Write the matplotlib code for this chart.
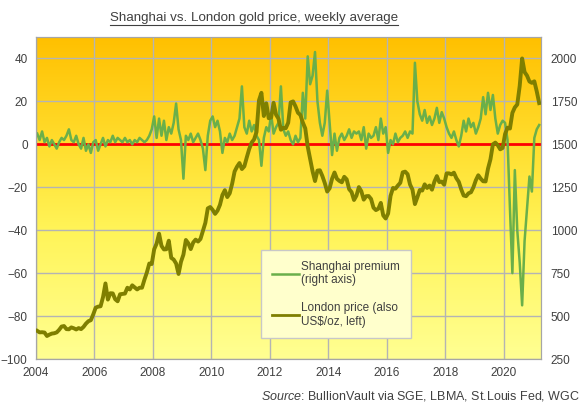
import numpy as np
import matplotlib
matplotlib.use("Agg")
import matplotlib.pyplot as plt
from matplotlib.colors import LinearSegmentedColormap
from matplotlib.lines import Line2D

plt.rcParams['font.family'] = ['Liberation Sans', 'DejaVu Sans']
plt.rcParams['mathtext.fontset'] = 'custom'
plt.rcParams['mathtext.rm'] = 'Liberation Sans'
plt.rcParams['mathtext.it'] = 'Liberation Sans:italic'

# ---- data (monthly, Jan 2004 .. Mar 2021) ----
start_year = 2004
london_price = [
    414, 405, 406, 404, 384, 392, 398, 400, 405, 420, 439, 442,
    424, 423, 434, 429, 422, 430, 424, 437, 456, 470, 476, 510,
    549, 555, 557, 610, 690, 596, 633, 632, 598, 586, 627, 629,
    631, 665, 655, 679, 667, 655, 665, 665, 712, 754, 806, 803,
    889, 922, 980, 909, 888, 889, 939, 839, 829, 806, 745, 816,
    858, 943, 924, 890, 928, 945, 934, 949, 996, 1043, 1127, 1135,
    1118, 1095, 1114, 1148, 1205, 1233, 1193, 1215, 1271, 1342, 1370, 1391,
    1356, 1372, 1424, 1473, 1510, 1529, 1572, 1756, 1800, 1665, 1739, 1652,
    1656, 1742, 1673, 1650, 1585, 1596, 1594, 1626, 1744, 1750, 1721, 1684,
    1671, 1627, 1593, 1487, 1414, 1343, 1286, 1347, 1349, 1316, 1275, 1225,
    1244, 1300, 1336, 1299, 1287, 1279, 1311, 1296, 1239, 1222, 1176, 1201,
    1251, 1227, 1178, 1198, 1199, 1182, 1131, 1117, 1125, 1159, 1086, 1068,
    1097, 1200, 1246, 1242, 1260, 1276, 1337, 1341, 1326, 1266, 1236, 1152,
    1192, 1234, 1231, 1267, 1246, 1260, 1236, 1283, 1315, 1280, 1283, 1265,
    1331, 1331, 1325, 1335, 1303, 1282, 1238, 1202, 1198, 1215, 1221, 1250,
    1291, 1320, 1300, 1285, 1284, 1359, 1413, 1500, 1510, 1495, 1471, 1479,
    1560, 1597, 1592, 1683, 1715, 1732, 1840, 2000, 1921, 1900, 1866, 1858,
    1867, 1808, 1740,
]
shanghai_premium = [
    5, 2, 6, 1, 3, -1, 2, 0, -2, 1, 3, 2,
    4, 7, 2, 1, 4, 0, -2, 3, -3, 0, -4, 1,
    2, -3, 0, 3, -1, 2, 1, 4, 1, 3, 2, 1,
    3, 1, 2, 0, 2, 1, 3, 2, 1, 2, 4, 7,
    13, 3, 12, 4, 11, 2, 8, 5, 10, 19, 7, 2,
    -16, 4, 2, 5, 1, 3, 5, 2, -2, -12, 4, 11,
    13, 8, 11, 6, -4, 3, 1, 5, 2, 4, 8, 12,
    27, 8, 5, 11, 6, 9, 4, 2, -10, 3, 8, 6,
    14, 5, 8, 10, 27, 7, 4, 6, 2, 0, 4, 1,
    3, 24, 12, 41, 28, 32, 43, 20, 10, 4, 10, 25,
    10, -5, 5, -3, 3, 5, 2, 4, 7, 3, 6, 5,
    6, 2, 8, -2, 5, 3, 4, 8, 2, 12, 5, 8,
    -4, 2, 0, 5, 1, 3, 4, 6, 3, 6, 5, 38,
    20, 14, 11, 16, 10, 13, 9, 12, 17, 10, 15, 12,
    8, 5, 3, 6, 2, -1, 4, 11, 6, 12, 8, 10,
    5, 8, 12, 22, 14, 24, 16, 23, 12, 5, 9, 11,
    10, 2, -30, -60, -12, -40, -55, -75, -45, -30, -15, -22,
    3, 7, 9,
]
x_ticks = [2004, 2006, 2008, 2010, 2012, 2014, 2016, 2018, 2020]
left_ticks = [-100, -80, -60, -40, -20, 0, 20, 40]
right_ticks = [250, 500, 750, 1000, 1250, 1500, 1750, 2000]
labels = ["Shanghai premium\n(right axis)", "London price (also\nUS$/oz, left)"]
title = "Shanghai vs. London gold price, weekly average"

n = len(london_price)
years = start_year + (np.arange(n) + 0.5) / 12.0

W, H = 585, 408
fig = plt.figure(figsize=(W / 100, H / 100), dpi=100)
ax = fig.add_axes([36 / W, 1 - 359 / H, (541 - 36) / W, (359 - 37) / H])

# gradient background
cmap = LinearSegmentedColormap.from_list(
    "bg", [(0, "#FFFF92"), (0.4, "#FFF458"), (0.65, "#FFDF30"), (1, "#FFC000")])
grad = np.linspace(0, 1, 256).reshape(-1, 1)
ax.imshow(grad, extent=[0, 1, 0, 1], transform=ax.transAxes, aspect='auto',
          cmap=cmap, origin='lower', zorder=0)

tc = "#404040"
gc = "#B4B4B4"
ax.set_xlim(2004, 2021.27)
ax.set_ylim(-100, 50)
ax.set_xticks(x_ticks)
ax.set_yticks(left_ticks)
ax.set_axisbelow(True)
ax.grid(True, color=gc, linewidth=1.0)
for s in ax.spines.values():
    s.set_color("#A6A6A6")
ax.tick_params(length=0, labelsize=8.5, labelcolor=tc)
ax.tick_params(axis='y', pad=6)
ax.tick_params(axis='x', pad=6)

ax.axhline(0, color="#FF0000", linewidth=2, zorder=2)
l1, = ax.plot(years, shanghai_premium, color="#6AAF4A", linewidth=1.8, zorder=3)

ax2 = ax.twinx()
ax2.set_ylim(250, 2125)
ax2.set_yticks(right_ticks)
ax2.tick_params(length=0, labelsize=8.5, labelcolor=tc, pad=7)
for s in ax2.spines.values():
    s.set_color("#A6A6A6")
l2, = ax2.plot(years, london_price, color="#7F7F00", linewidth=2.8, zorder=3)

h1 = Line2D([], [], color="#6AAF4A", linewidth=1.8)
h2 = Line2D([], [], color="#7F7F00", linewidth=2.0)
leg = ax2.legend([h1, h2], labels, loc='upper left',
                 bbox_to_anchor=(261 / W, 1 - 250 / H), bbox_transform=fig.transFigure,
                 borderaxespad=0, fancybox=False, framealpha=1, facecolor="#FFFFCC",
                 edgecolor="#C8C8C8", fontsize=8.5, handlelength=2.3, labelspacing=1.3,
                 borderpad=0.9, handletextpad=0.2)
for tx in leg.get_texts():
    tx.set_color(tc)

t = fig.text(254 / W, 1 - 18 / H, title, ha='center', va='center', fontsize=9.6, color=tc)
fig.text(580 / W, 1 - 396 / H, r"$\it{Source}$: BullionVault via SGE, LBMA, St.Louis Fed, WGC",
         ha='right', va='center', fontsize=9, color=tc)

fig.canvas.draw()
bb = t.get_window_extent()
yline = bb.y0 - 1.0
fig.add_artist(Line2D([bb.x0 / W, bb.x1 / W], [yline / H, yline / H],
                      transform=fig.transFigure, color=tc, linewidth=0.8))

fig.savefig("out.png", dpi=100)
